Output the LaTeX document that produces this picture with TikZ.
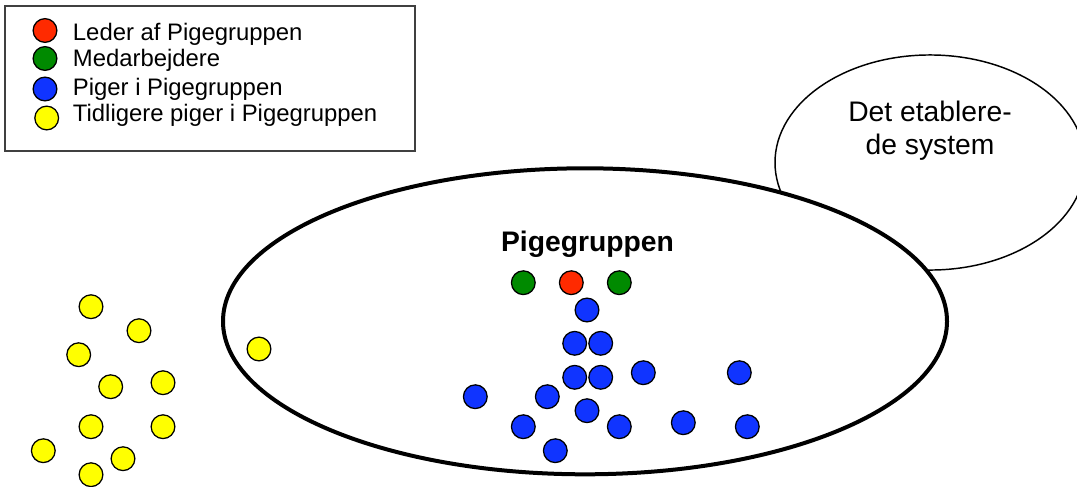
\documentclass[tikz,border=0pt]{standalone}
\usepackage{fontspec}
\setmainfont{Liberation Sans}
\usepackage{tikz}
\usetikzlibrary{shapes.geometric}

\definecolor{lederred}{HTML}{FF2A00}
\definecolor{medgreen}{HTML}{008A00}
\definecolor{pigeblue}{HTML}{1034FF}
\definecolor{tidyellow}{HTML}{FFFF00}

\tikzset{
  dot/.style={circle, draw=black, line width=0.95pt, minimum size=17.8pt, inner sep=0pt},
  leder/.style={dot, fill=lederred},
  medarb/.style={dot, fill=medgreen},
  pige/.style={dot, fill=pigeblue},
  tidl/.style={dot, fill=tidyellow},
  legendtext/.style={anchor=base west, inner sep=0pt, font=\fontsize{17.9}{21}\selectfont},
  bigtext/.style={anchor=base, inner sep=0pt, font=\fontsize{21.2}{25}\selectfont}
}

\begin{document}
\begin{tikzpicture}[x=0.75pt,y=-0.75pt]
  \useasboundingbox (0,0) rectangle (1077,486);
  \clip (0,0) rectangle (1077,486);

  % legend
  \draw[line width=0.8pt, draw=black!75] (5,6) rectangle (415,151);
  \node[leder] (l1) at (45,30.5) {};
  \node[medarb] (l2) at (45,58.5) {};
  \node[pige] (l3) at (45,89) {};
  \node[tidl] (l4) at (46.7,118) {};
  \node[legendtext] (t1) at (72.7,40.2) {Leder af Pigegruppen};
  \node[legendtext] (t2) at (72.7,66.8) {Medarbejdere};
  \node[legendtext] (t3) at (72.7,95.7) {Piger i Pigegruppen};
  \node[legendtext] (t4) at (72.7,121.7) {Tidligere piger i Pigegruppen};

  % the two systems
  \node[ellipse, draw, fill=white, line width=1.1pt, minimum width=232.5pt, minimum height=161.3pt] (system) at (930,162.5) {};
  \node[ellipse, draw, fill=white, line width=3pt, minimum width=543pt, minimum height=229.5pt] (gruppe) at (585,321.3) {};
  \node[bigtext] (sys1) at (930,121.7) {Det etablere-};
  \node[bigtext] (sys2) at (930,154.3) {de system};
  \node[bigtext, font=\fontsize{21.2}{25}\selectfont\bfseries] (grp) at (587.5,251.7) {Pigegruppen};

  % inside the group
  \node[medarb] (m1) at (523.3,282.7) {};
  \node[leder] (lead) at (571.3,282.7) {};
  \node[medarb] (m2) at (619.3,282.7) {};
  \node[pige] (p1) at (587,310) {};
  \node[pige] (p2) at (574.7,343.3) {};
  \node[pige] (p3) at (600.7,343.3) {};
  \node[pige] (p4) at (574.7,377.3) {};
  \node[pige] (p5) at (600.7,377.3) {};
  \node[pige] (p6) at (643.3,372.7) {};
  \node[pige] (p7) at (739.3,372.7) {};
  \node[pige] (p8) at (475.3,396.7) {};
  \node[pige] (p9) at (547.3,396.7) {};
  \node[pige] (p10) at (587,410.7) {};
  \node[pige] (p11) at (523.3,426.7) {};
  \node[pige] (p12) at (619.3,426.7) {};
  \node[pige] (p13) at (683.3,422.7) {};
  \node[pige] (p14) at (747.3,426.7) {};
  \node[pige] (p15) at (555.3,450.7) {};
  \node[tidl] (y0) at (259,349) {};

  % outside the group
  \node[tidl] (y1) at (91,306.7) {};
  \node[tidl] (y2) at (139,330.7) {};
  \node[tidl] (y3) at (78.7,354.7) {};
  \node[tidl] (y4) at (110.7,386.7) {};
  \node[tidl] (y5) at (163,382.7) {};
  \node[tidl] (y6) at (91,426.7) {};
  \node[tidl] (y7) at (163,426.7) {};
  \node[tidl] (y8) at (43.3,450.7) {};
  \node[tidl] (y9) at (123,458.7) {};
  \node[tidl] (y10) at (91,474.7) {};
\end{tikzpicture}
\end{document}
